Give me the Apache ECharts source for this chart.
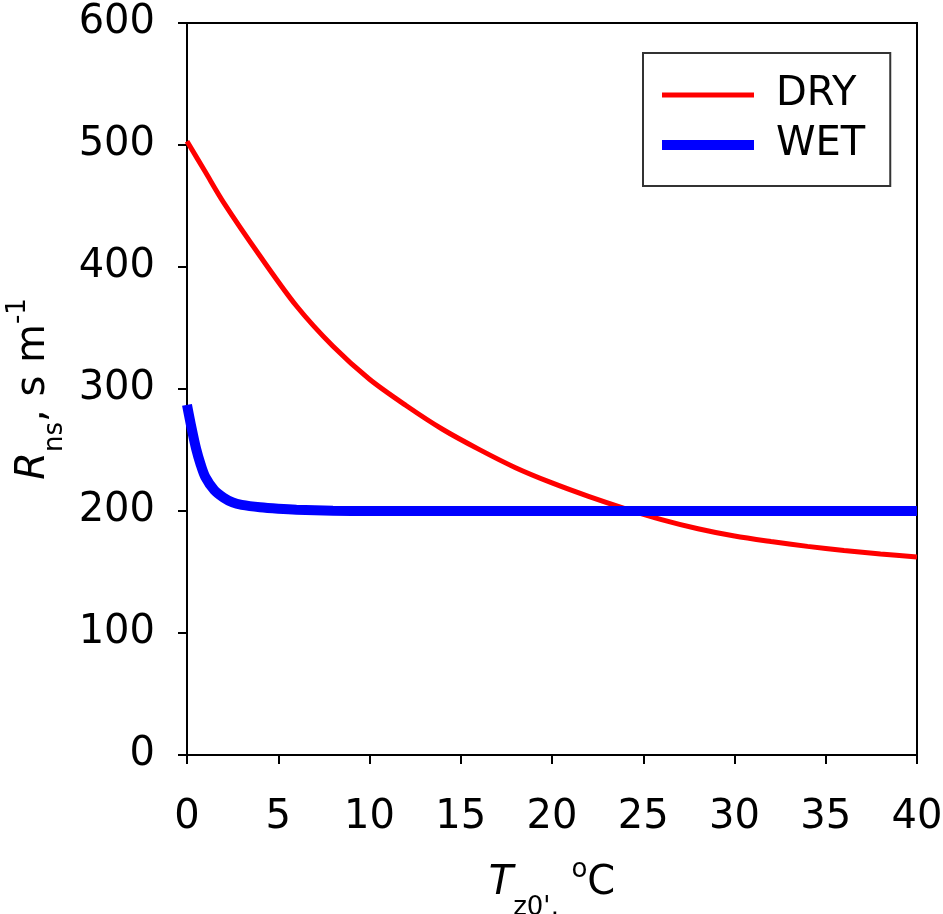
<!DOCTYPE html>
<html>
<head>
<meta charset="utf-8">
<script src="https://cdn.jsdelivr.net/npm/echarts@6/dist/echarts.min.js"></script>
<style>
  html, body { margin: 0; padding: 0; background: #fff; }
  #main { width: 943px; height: 914px; }
</style>
</head>
<body>
<div id="main"></div>
<script>
// DRY curve (T in degC, R in s/m)
var dryT = [0, 1, 2, 4, 6, 8, 10, 12, 14, 16, 18, 20, 22, 24, 26, 28, 30, 32, 34, 36, 38, 40];
var dryR = [503, 478, 453, 409, 368, 335, 308, 286.5, 267, 250.5, 235.5, 223, 212, 202, 193, 185.5, 179.5, 175, 171, 167.6, 164.8, 162.3];

// WET curve
var wetT = [0, 0.25, 0.5, 0.75, 1, 1.5, 2, 2.5, 3, 4, 5, 6, 8, 10, 15, 20, 25, 30, 35, 40];
var wetR = [287, 268, 251, 238, 228, 217, 211, 207, 205, 203, 201.8, 201, 200.3, 200, 200, 200, 200, 200, 200, 200];

var xTicks = { min: 0, max: 40, step: 5 };
var yTicks = { min: 0, max: 600, step: 100 };

function pairs(xs, ys) {
    var out = [];
    for (var i = 0; i < xs.length; i++) out.push([xs[i], ys[i]]);
    return out;
}

var FONT = 'DejaVu Sans';
// axis title styles: main text, subscript (sits lower), superscript (sits higher)
function titleRich(lineH, supPad) {
    return {
        i: { fontFamily: FONT, fontSize: 40, fontStyle: 'italic', color: '#000', lineHeight: lineH, verticalAlign: 'middle' },
        n: { fontFamily: FONT, fontSize: 40, color: '#000', lineHeight: lineH, verticalAlign: 'middle' },
        sub: { fontFamily: FONT, fontSize: 26, color: '#000', lineHeight: 26, verticalAlign: 'bottom' },
        sup: { fontFamily: FONT, fontSize: 26, color: '#000', verticalAlign: 'top', padding: [supPad, 0, 0, 0] }
    };
}

var myChart = echarts.init(document.getElementById('main'));
var option = {
    backgroundColor: '#fff',
    animation: false,
    grid: {
        left: 187, right: 26, top: 23, bottom: 159,
        containLabel: false, outerBoundsMode: 'none',
        show: true, borderColor: '#000', borderWidth: 2
    },
    legend: {
        left: 643, top: 53,
        orient: 'vertical',
        padding: [22, 25, 21, 14],
        borderColor: '#333', borderWidth: 2,
        itemWidth: 92, itemHeight: 40, itemGap: 10,
        textStyle: { fontFamily: FONT, fontSize: 40, color: '#000', padding: [0, 0, 0, 17] },
        data: [
            { name: 'DRY', lineStyle: { width: 5, color: '#ff0000' }, itemStyle: { opacity: 0 } },
            { name: 'WET', lineStyle: { width: 10, color: '#0000ff' }, itemStyle: { opacity: 0 } }
        ]
    },
    xAxis: {
        type: 'value',
        min: xTicks.min, max: xTicks.max, interval: xTicks.step,
        name: '{i|T}{sub|z0\',}{n| }{sup|o}{n|C}',
        nameLocation: 'middle', nameGap: 92,
        nameTextStyle: { rich: titleRich(74, 10) },
        axisLine: { lineStyle: { color: '#000', width: 2 } },
        axisTick: { inside: false, length: 9, lineStyle: { color: '#000', width: 2 } },
        axisLabel: { fontFamily: FONT, fontSize: 40, color: '#000', margin: 43 },
        splitLine: { show: false }
    },
    yAxis: {
        type: 'value',
        min: yTicks.min, max: yTicks.max, interval: yTicks.step,
        name: '{i|R}{sub|ns}{n|, s m}{sup|-1}',
        nameLocation: 'middle', nameGap: 117, nameRotate: 90,
        nameTextStyle: { rich: titleRich(68, 5) },
        axisLine: { lineStyle: { color: '#000', width: 2 } },
        axisTick: { inside: false, length: 9, lineStyle: { color: '#000', width: 2 } },
        axisLabel: { fontFamily: FONT, fontSize: 40, color: '#000', margin: 32 },
        splitLine: { show: false }
    },
    series: [
        {
            name: 'DRY', type: 'line', data: pairs(dryT, dryR),
            smooth: 0.3, symbol: 'none',
            lineStyle: { color: '#ff0000', width: 5 },
            itemStyle: { color: '#ff0000' }
        },
        {
            name: 'WET', type: 'line', data: pairs(wetT, wetR),
            smooth: 0.3, symbol: 'none',
            lineStyle: { color: '#0000ff', width: 10 },
            itemStyle: { color: '#0000ff' }
        }
    ]
};
myChart.setOption(option);
</script>
</body>
</html>
